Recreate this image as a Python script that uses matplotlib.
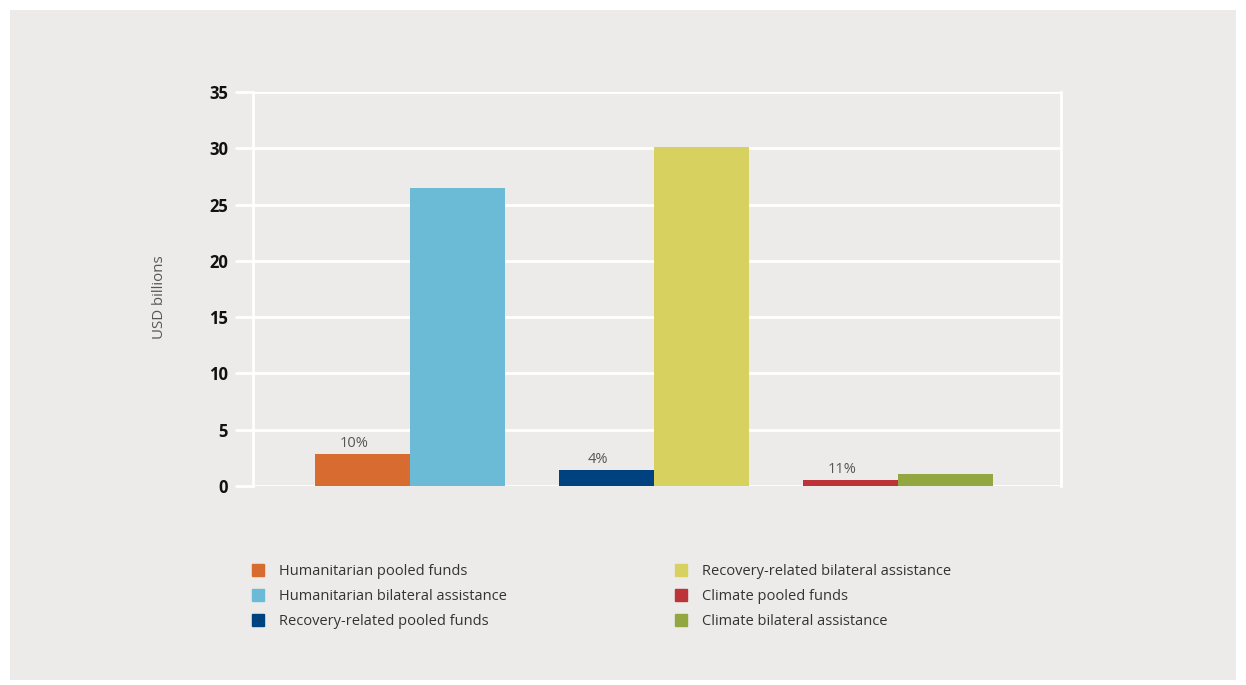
import matplotlib
matplotlib.use("Agg")
import matplotlib.pyplot as plt
from matplotlib.patches import Rectangle, Patch
import numpy as np

plt.rcParams['font.family'] = ['Open Sans', 'DejaVu Sans']

# data (USD billions)
groups = ["Humanitarian", "Recovery-related", "Climate"]
pooled = [2.8, 1.4, 0.53]
bilateral = [26.5, 30.1, 1.05]
shares = ["10%", "4%", "11%"]

pooled_labels = ["Humanitarian pooled funds", "Recovery-related pooled funds", "Climate pooled funds"]
bilateral_labels = ["Humanitarian bilateral assistance", "Recovery-related bilateral assistance",
                    "Climate bilateral assistance"]
pooled_colors = ["#d86b30", "#004280", "#bc333a"]
bilateral_colors = ["#6bbad6", "#d7d260", "#93a740"]

yticks = [0, 5, 10, 15, 20, 25, 30, 35]

panel = "#ecebe9"

fig = plt.figure(figsize=(12.46, 6.85), dpi=100)
fig.patch.set_facecolor("white")
fig.patches.append(Rectangle((10 / 1246, 5 / 685), 1226 / 1246, 670 / 685,
                             transform=fig.transFigure, facecolor=panel,
                             edgecolor="none", zorder=-10))

ax = fig.add_axes([253 / 1246, 1 - 486 / 685, 808 / 1246, 394 / 685])
ax.set_facecolor(panel)

x = np.arange(len(groups))
w = 0.39
ax.bar(x - w / 2, pooled, width=w, color=pooled_colors, zorder=3)
ax.bar(x + w / 2, bilateral, width=w, color=bilateral_colors, zorder=3)

# share labels sit a little left of the bar centre, as in the original
for xi, v, s in zip(x, pooled, shares):
    ax.text(xi - w / 2 - 0.035, v + 0.3, s, ha="center", va="bottom",
            fontsize=10.5, color="#555555")

ax.set_xlim(-0.643, 2.668)
ax.set_ylim(0, 35)
ax.set_yticks(yticks)
ax.set_yticklabels([str(t) for t in yticks], fontsize=12, fontweight="bold", color="#111111")
ax.set_xticks([])
ax.grid(axis="y", color="white", linewidth=2, zorder=1)
ax.set_axisbelow(True)
ax.tick_params(axis="y", length=13, width=2, color="white", pad=5)
for side in ["left", "right"]:
    ax.spines[side].set_color("white")
    ax.spines[side].set_linewidth(2)
for side in ["top", "bottom"]:
    ax.spines[side].set_visible(False)

ax.set_ylabel("USD billions", fontsize=10.8, color="#555555")
ax.yaxis.set_label_coords(-0.106, 0.48)

# legend, two columns
col1 = [Patch(color=pooled_colors[0]), Patch(color=bilateral_colors[0]), Patch(color=pooled_colors[1])]
lab1 = [pooled_labels[0], bilateral_labels[0], pooled_labels[1]]
col2 = [Patch(color=bilateral_colors[1]), Patch(color=pooled_colors[2]), Patch(color=bilateral_colors[2])]
lab2 = [bilateral_labels[1], pooled_labels[2], bilateral_labels[2]]

leg_kw = dict(frameon=False, fontsize=10.5, handlelength=0.85, handleheight=0.85,
              handletextpad=1.0, labelspacing=0.68, labelcolor="#333333",
              loc="upper left", borderpad=0, borderaxespad=0)
l1 = fig.legend(col1, lab1, bbox_to_anchor=(252 / 1246, 1 - 564 / 685), **leg_kw)
l2 = fig.legend(col2, lab2, bbox_to_anchor=(675 / 1246, 1 - 564 / 685), **leg_kw)

fig.savefig("out.png", dpi=100, facecolor=fig.get_facecolor())
